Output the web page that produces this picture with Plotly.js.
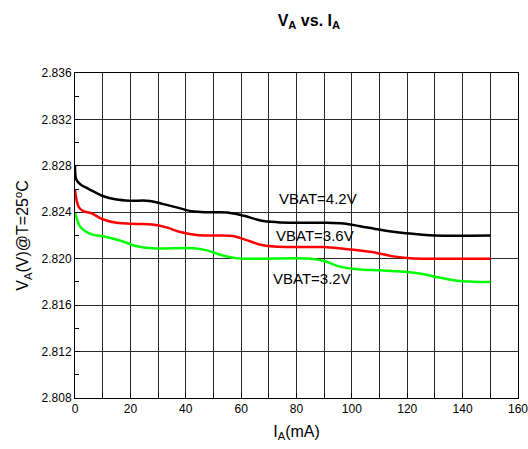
<!DOCTYPE html>
<html>
<head>
<meta charset="utf-8">
<script src="https://cdn.plot.ly/plotly-3.0.1.min.js"></script>
<style>html,body{margin:0;padding:0;background:#fff;}#chart{width:528px;height:449px;}</style>
</head>
<body>
<div id="chart"></div>
<script>
const seriesNames = ["VBAT=4.2V", "VBAT=3.6V", "VBAT=3.2V"];
const colors = ["#000000", "#ff0000", "#00ff00"];

const x42 = [0, 0.5, 2, 5, 10, 15, 20, 27, 32, 37, 42, 48, 55, 61, 67, 73, 80, 90, 97, 103, 110, 117, 124, 130, 150];
const y42 = [2.828, 2.8268, 2.8264, 2.8260, 2.8254, 2.8251, 2.8250, 2.82498, 2.8247, 2.8244, 2.8241, 2.8240, 2.82398, 2.8237, 2.8233, 2.82315, 2.8231, 2.8231, 2.82303, 2.8228, 2.8225, 2.82225, 2.8221, 2.8220, 2.8220];

const x36 = [0, 0.6, 1.5, 3, 6, 10, 15, 22, 28, 33, 38, 44, 50, 57, 62, 67, 72, 80, 90, 97, 103, 109, 115, 121, 130, 150];
const y36 = [2.826, 2.8250, 2.8244, 2.8241, 2.8239, 2.8234, 2.8231, 2.8230, 2.82295, 2.8227, 2.8223, 2.82205, 2.8220, 2.82195, 2.8216, 2.8212, 2.82105, 2.8210, 2.8210, 2.82085, 2.8207, 2.8205, 2.8202, 2.82005, 2.8200, 2.8200];

const x32 = [0, 0.6, 1.5, 3, 6, 11, 17, 22, 28, 43, 48, 53, 58, 65, 85, 90, 96, 102, 110, 118, 125, 131, 138, 144, 150];
const y32 = [2.824, 2.8235, 2.8229, 2.8225, 2.8221, 2.8219, 2.8215, 2.8211, 2.8209, 2.8209, 2.8207, 2.8203, 2.82005, 2.8200, 2.8200, 2.8198, 2.8193, 2.8191, 2.8190, 2.8189, 2.8187, 2.8184, 2.8181, 2.81802, 2.8180];

const labelX = [87.8, 86.7, 85.6];
const labelY = [2.8252, 2.8220, 2.8183];

const xs = [x42, x36, x32];
const ys = [y42, y36, y32];

const traces = xs.map((x, i) => ({
  x: x, y: ys[i], type: "scatter", mode: "lines", name: seriesNames[i],
  line: {color: colors[i], width: 2.5, shape: "spline", smoothing: 1.0},
  showlegend: false, hoverinfo: "skip"
}));

const annotations = seriesNames.map((t, i) => ({
  x: labelX[i], y: labelY[i], xref: "x", yref: "y", text: t, showarrow: false,
  font: {family: "Liberation Sans, Arial, sans-serif", size: 15, color: "#000"},
  xanchor: "center", yanchor: "middle"
}));

const gridColor = "#2a2a2a";
const layout = {
  width: 528, height: 449,
  margin: {l: 75, r: 10, t: 73, b: 51},
  paper_bgcolor: "#fff", plot_bgcolor: "#fff",
  font: {family: "Liberation Sans, Arial, sans-serif", color: "#000", size: 12},
  title: {text: "<b>V<sub>A</sub> vs. I<sub>A</sub></b>", x: 0.585, xanchor: "center", y: 0.955, yanchor: "middle",
          font: {size: 16, family: "Liberation Sans, Arial, sans-serif"}},
  xaxis: {
    range: [0, 160], tickmode: "linear", tick0: 0, dtick: 20,
    ticklabeloverflow: "allow",
    showgrid: true, gridcolor: gridColor, gridwidth: 1,
    ticks: "inside", ticklen: 5, tickcolor: "#000",
    minor: {dtick: 10, showgrid: true, gridcolor: gridColor, gridwidth: 1, ticks: "inside", ticklen: 5, tickcolor: "#000"},
    showline: true, linecolor: "#000", linewidth: 1, mirror: true, zeroline: false,
    tickfont: {size: 12},
    title: {text: "I<sub>A</sub>(mA)", font: {size: 16}, standoff: 10}
  },
  yaxis: {
    range: [2.808, 2.836], tickmode: "linear", tick0: 2.808, dtick: 0.004, tickformat: ".3f",
    showgrid: true, gridcolor: gridColor, gridwidth: 1,
    ticks: "inside", ticklen: 5, tickcolor: "#000",
    minor: {dtick: 0.002, showgrid: false, ticks: "inside", ticklen: 4, tickcolor: "#000"},
    showline: true, linecolor: "#000", linewidth: 1, mirror: true, zeroline: false,
    tickfont: {size: 12},
    title: {text: "V<sub>A</sub>(V)@T=25<sup>o</sup>C", font: {size: 16}, standoff: 8}
  },
  annotations: annotations
};

Plotly.newPlot("chart", traces, layout, {displayModeBar: false, staticPlot: true});
</script>
</body>
</html>
